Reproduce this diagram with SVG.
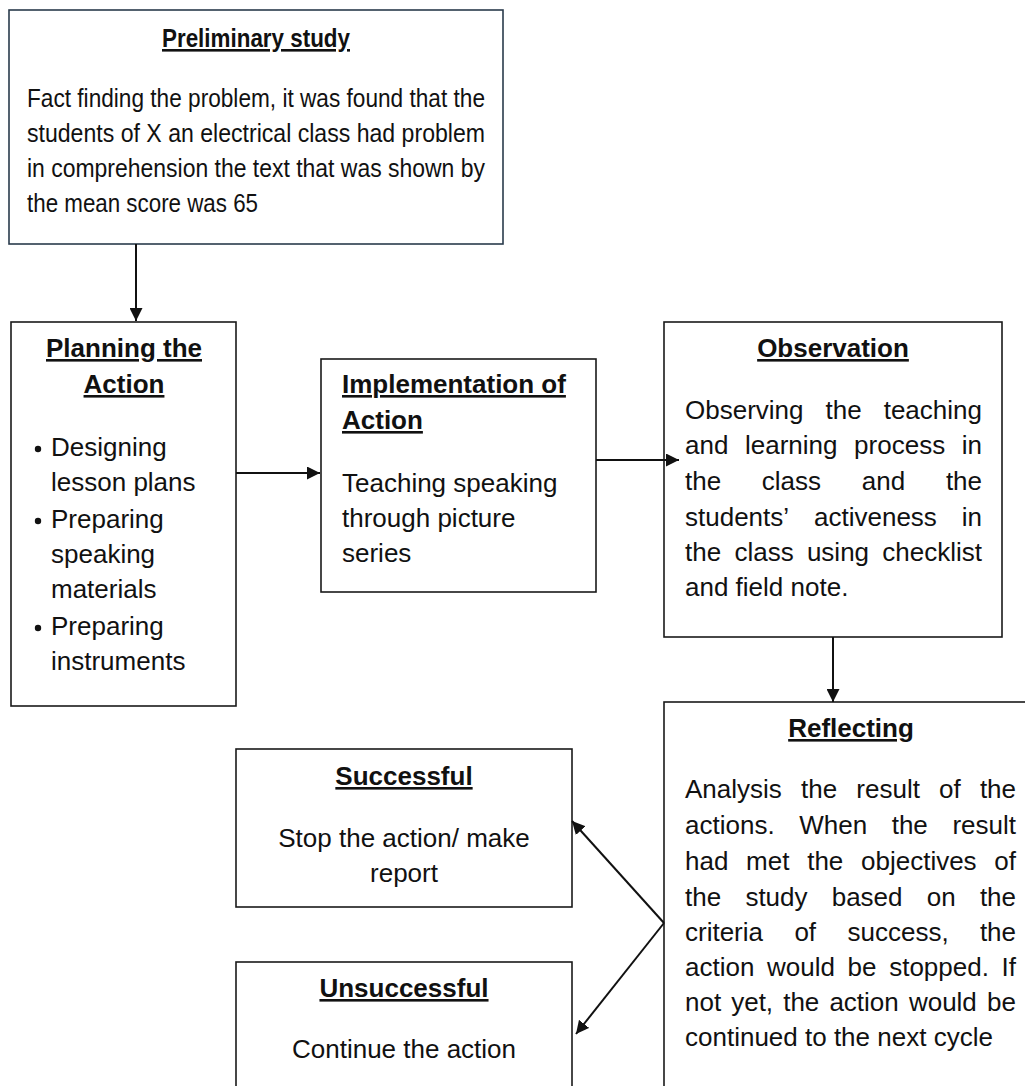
<svg xmlns="http://www.w3.org/2000/svg" width="1025" height="1086" viewBox="0 0 1025 1086">
<style>
.box{fill:#fff;stroke:#1a1a1a;stroke-width:1.6}
.top{stroke:#2a3b4c}
text{font-family:"Liberation Sans",Arial,sans-serif;font-size:26px;fill:#111}
.t{font-weight:bold;text-decoration:underline}
.m{text-anchor:middle}
.conn line{stroke:#111;stroke-width:2;fill:none}
</style>
<defs>
<marker id="ah" markerUnits="userSpaceOnUse" markerWidth="13" markerHeight="13" viewBox="0 0 10 10" refX="10" refY="5" orient="auto">
<path d="M0,0 L10,5 L0,10 z" fill="#111"/>
</marker>
</defs>
<rect width="1025" height="1086" fill="#fff"/>

<g id="preliminary">
<rect class="box top" x="9" y="10" width="494" height="234"/>
<text class="t" x="162" y="47" textLength="188" lengthAdjust="spacingAndGlyphs">Preliminary study</text>
<text x="27" y="107" textLength="458" lengthAdjust="spacingAndGlyphs">Fact finding the problem, it was found that the</text>
<text x="27" y="142" textLength="458" lengthAdjust="spacingAndGlyphs">students of X an electrical class had problem</text>
<text x="27" y="177" textLength="458" lengthAdjust="spacingAndGlyphs">in comprehension the text that was shown by</text>
<text x="27" y="212" textLength="231" lengthAdjust="spacingAndGlyphs">the mean score was 65</text>
</g>

<g id="planning">
<rect class="box" x="11" y="322" width="225" height="384"/>
<text class="t m" x="124" y="357">Planning the</text>
<text class="t m" x="124" y="393">Action</text>
<circle cx="38" cy="449" r="3.2" fill="#111"/>
<text x="51" y="456">Designing</text>
<text x="51" y="491">lesson plans</text>
<circle cx="38" cy="521" r="3.2" fill="#111"/>
<text x="51" y="528">Preparing</text>
<text x="51" y="563">speaking</text>
<text x="51" y="598">materials</text>
<circle cx="38" cy="628" r="3.2" fill="#111"/>
<text x="51" y="635">Preparing</text>
<text x="51" y="670">instruments</text>
</g>

<g id="implementation">
<rect class="box" x="321" y="359" width="275" height="233"/>
<text class="t" x="342" y="393">Implementation of</text>
<text class="t" x="342" y="429">Action</text>
<text x="342" y="492">Teaching speaking</text>
<text x="342" y="527">through picture</text>
<text x="342" y="562">series</text>
</g>

<g id="observation">
<rect class="box" x="664" y="322" width="338" height="315"/>
<text class="t m" x="833" y="357">Observation</text>
<text y="419"><tspan x="685">Observing</tspan><tspan x="825.6">the</tspan><tspan x="883.7">teaching</tspan></text>
<text y="454"><tspan x="685">and</tspan><tspan x="745">learning</tspan><tspan x="854.1">process</tspan><tspan x="961.8">in</tspan></text>
<text y="490"><tspan x="685">the</tspan><tspan x="761.8">class</tspan><tspan x="861.8">and</tspan><tspan x="945.9">the</tspan></text>
<text y="526"><tspan x="685">students’</tspan><tspan x="814">activeness</tspan><tspan x="961.8">in</tspan></text>
<text y="561"><tspan x="685">the</tspan><tspan x="734.4">class</tspan><tspan x="806.9">using</tspan><tspan x="882.3">checklist</tspan></text>
<text x="685" y="596">and field note.</text>
</g>

<g id="reflecting">
<rect class="box" x="664" y="702" width="380" height="420"/>
<text class="t m" x="851" y="737">Reflecting</text>
<text y="798"><tspan x="685">Analysis</tspan><tspan x="801">the</tspan><tspan x="856.3">result</tspan><tspan x="939.1">of</tspan><tspan x="979.9">the</tspan></text>
<text y="834"><tspan x="685">actions.</tspan><tspan x="799.2">When</tspan><tspan x="891.7">the</tspan><tspan x="952.4">result</tspan></text>
<text y="870"><tspan x="685">had</tspan><tspan x="746.1">met</tspan><tspan x="807.2">the</tspan><tspan x="861">objectives</tspan><tspan x="994.3">of</tspan></text>
<text y="906"><tspan x="685">the</tspan><tspan x="745.4">study</tspan><tspan x="831.7">based</tspan><tspan x="926.8">on</tspan><tspan x="979.9">the</tspan></text>
<text y="941"><tspan x="685">criteria</tspan><tspan x="794.4">of</tspan><tspan x="847.5">success,</tspan><tspan x="979.9">the</tspan></text>
<text y="976"><tspan x="685">action</tspan><tspan x="767.1">would</tspan><tspan x="847.6">be</tspan><tspan x="889.2">stopped.</tspan><tspan x="1001.5">If</tspan></text>
<text y="1011"><tspan x="685">not</tspan><tspan x="731.2">yet,</tspan><tspan x="783.2">the</tspan><tspan x="829.4">action</tspan><tspan x="908.9">would</tspan><tspan x="987.1">be</tspan></text>
<text x="685" y="1046">continued to the next cycle</text>
</g>

<g id="successful">
<rect class="box" x="236" y="749" width="336" height="158"/>
<text class="t m" x="404" y="785">Successful</text>
<text class="m" x="404" y="847">Stop the action/ make</text>
<text class="m" x="404" y="882">report</text>
</g>

<g id="unsuccessful">
<rect class="box" x="236" y="962" width="336" height="160"/>
<text class="t m" x="404" y="997">Unsuccessful</text>
<text class="m" x="404" y="1058">Continue the action</text>
</g>

<g id="connectors" class="conn">
<line x1="136" y1="244" x2="136" y2="321" marker-end="url(#ah)"/>
<line x1="236" y1="473" x2="320" y2="473" marker-end="url(#ah)"/>
<line x1="596" y1="460" x2="679" y2="460" marker-end="url(#ah)"/>
<line x1="833" y1="637" x2="833" y2="702" marker-end="url(#ah)"/>
<line x1="664" y1="923" x2="572" y2="821" marker-end="url(#ah)"/>
<line x1="664" y1="923" x2="576" y2="1034" marker-end="url(#ah)"/>
</g>
</svg>
